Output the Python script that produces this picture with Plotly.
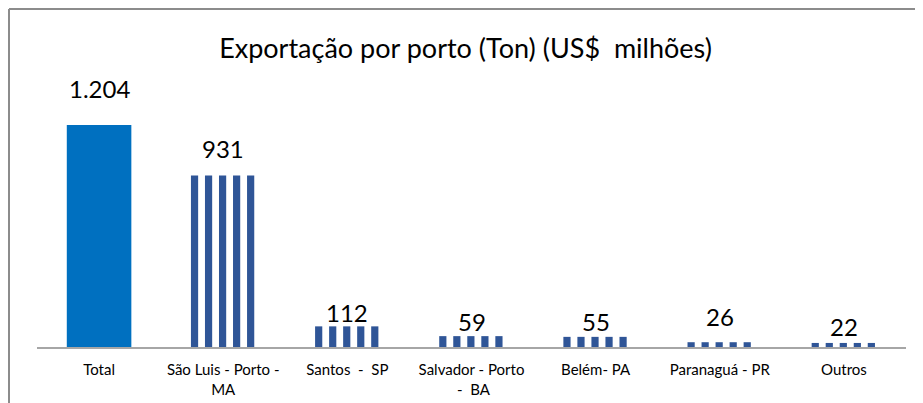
import plotly.graph_objects as go

categories = ["Total", "São Luis - Porto -<br>MA", "Santos  -  SP", "Salvador - Porto<br> -  BA",
              "Belém- PA", "Paranaguá - PR", "Outros"]
values = [1204, 931, 112, 59, 55, 26, 22]
value_labels = ["1.204", "931", "112", "59", "55", "26", "22"]

# style / layout settings
label_shift = [37, 27, 14, 15, 15, 26, 16]
stripe_offsets = [-0.26, -0.147, -0.034, 0.079, 0.192]
stripe_width = 0.058
total_color = "#0070C0"
stripe_color = "#2F5597"
FONT = "Lato"

fig = go.Figure()
fig.add_trace(go.Bar(x=categories[:1], y=values[:1], width=0.52,
                     marker=dict(color=total_color, line=dict(width=0)),
                     hoverinfo="skip", showlegend=False))
for off in stripe_offsets:
    fig.add_trace(go.Bar(x=categories[1:], y=values[1:], width=stripe_width, offset=off,
                         marker=dict(color=stripe_color, line=dict(width=0)),
                         hoverinfo="skip", showlegend=False))

for c, v, t, s in zip(categories, values, value_labels, label_shift):
    fig.add_annotation(x=c, y=v, text=t, showarrow=False, yanchor="middle", yshift=s,
                       font=dict(family=FONT, size=24, color="#000000"))

# page has an 8px body margin; figure coordinates are page minus 8
W, H = 915, 395
L, R, T, B = 29, 17, 81, 56
pw, ph = W - L - R, H - T - B
px = lambda p: (p - L) / pw
py = lambda p: (H - B - p) / ph
border = "#8C8C8C"
fig.add_shape(type="line", xref="paper", yref="paper", x0=px(1), x1=px(W + 5), y0=py(1), y1=py(1),
              line=dict(color=border, width=2))
fig.add_shape(type="line", xref="paper", yref="paper", x0=px(1), x1=px(1), y0=py(1), y1=py(H + 5),
              line=dict(color=border, width=2))

fig.update_layout(
    width=W, height=H, barmode="overlay",
    margin=dict(l=L, r=R, t=T, b=B),
    paper_bgcolor="white", plot_bgcolor="white",
    title=dict(text="Exportação por porto (Ton) (US$  milhões)", x=0.5, xanchor="center",
               y=1 - 41 / H, yanchor="middle",
               font=dict(family=FONT, size=27, color="#000000")),
    font=dict(family=FONT, color="#000000"),
    xaxis=dict(type="category", categoryorder="array", categoryarray=categories,
               showline=True, linecolor="#A6A6A6", linewidth=2, ticks="",
               ticklabelstandoff=8, automargin=False,
               tickfont=dict(family=FONT, size=15, color="#000000"), fixedrange=True),
    yaxis=dict(range=[0, 1400], visible=False, showgrid=False, fixedrange=True),
)
fig.write_html("out.html")
